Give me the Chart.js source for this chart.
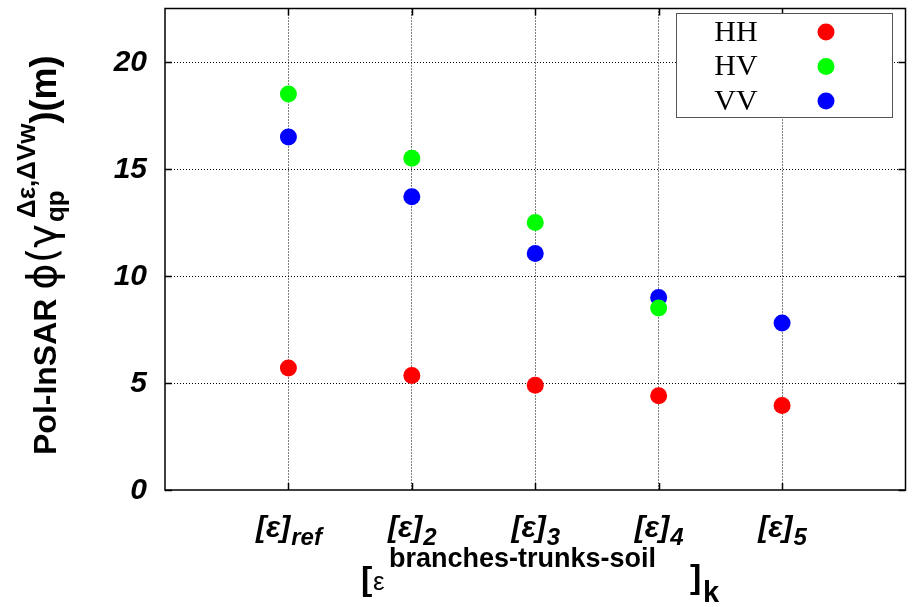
<!DOCTYPE html>
<html>
<head>
<meta charset="utf-8">
<script src="https://cdn.jsdelivr.net/npm/chart.js@4.4.1/dist/chart.umd.min.js"></script>
<style>
html, body { margin: 0; padding: 0; background: #fff; }
#wrap { width: 914px; height: 607px; }
</style>
</head>
<body>
<div id="wrap"><canvas id="chart"></canvas></div>
<script>
// subscripts of the [ε] labels, placed at x = 1..5
const categories = ['ref', '2', '3', '4', '5'];
const xPositions = [1, 2, 3, 4, 5];
const hh = [5.7, 5.35, 4.9, 4.4, 3.95];
const hv = [18.5, 15.5, 12.5, 8.5, null];
const vv = [16.5, 13.7, 11.05, 9.0, 7.8];
const seriesNames = ['HH', 'HV', 'VV'];
const seriesColors = ['#ff0000', '#00ff00', '#0000ff'];
const yTicks = [0, 5, 10, 15, 20];

function toPoints(values) {
    let pts = [];
    for (let i = 0; i < values.length; i++) {
        if (values[i] !== null) pts.push({ x: xPositions[i], y: values[i] });
    }
    return pts;
}

const sans = 'Arial, "Liberation Sans", sans-serif';

// tick labels, axis titles, frame with inward ticks and the legend
const decor = {
    id: 'decor',
    afterDraw(chart) {
        const ctx = chart.ctx;
        const a = chart.chartArea;
        const xs = chart.scales.x, ys = chart.scales.y;
        ctx.save();

        // inward tick marks on all four sides
        ctx.strokeStyle = '#000';
        ctx.lineWidth = 1.5;
        ctx.beginPath();
        xPositions.forEach(p => {
            const px = Math.round(xs.getPixelForValue(p)) + 0.5;
            ctx.moveTo(px, a.bottom); ctx.lineTo(px, a.bottom - 7);
            ctx.moveTo(px, a.top); ctx.lineTo(px, a.top + 7);
        });
        yTicks.forEach(v => {
            const py = Math.round(ys.getPixelForValue(v)) + 0.5;
            ctx.moveTo(a.left, py); ctx.lineTo(a.left + 7, py);
            ctx.moveTo(a.right, py); ctx.lineTo(a.right - 7, py);
        });
        ctx.stroke();

        // legend
        const lx = 676, ly = 13, lw = 216, lh = 104;
        ctx.fillStyle = '#fff';
        ctx.fillRect(lx, ly, lw, lh);
        ctx.strokeStyle = '#555';
        ctx.lineWidth = 1;
        ctx.strokeRect(lx + 0.5, ly + 0.5, lw, lh);
        ctx.font = '30px "Liberation Serif", "Times New Roman", serif';
        ctx.textBaseline = 'middle';
        ctx.textAlign = 'center';
        seriesNames.forEach((name, i) => {
            const cy = 32 + i * 34.5;
            ctx.fillStyle = '#000';
            ctx.fillText(name, 736, cy + 1);
            ctx.fillStyle = seriesColors[i];
            ctx.beginPath();
            ctx.arc(826, cy, 8.5, 0, Math.PI * 2);
            ctx.fill();
        });

        // frame
        ctx.strokeStyle = '#000';
        ctx.lineWidth = 1.5;
        ctx.strokeRect(a.left, a.top, a.right - a.left, a.bottom - a.top);

        // y tick labels
        ctx.fillStyle = '#000';
        ctx.textAlign = 'right';
        ctx.textBaseline = 'middle';
        ctx.font = 'italic bold 30px ' + sans;
        yTicks.forEach(v => {
            ctx.fillText(String(v), 147, ys.getPixelForValue(v) + 1);
        });

        // x tick labels: [ε] with subscript
        ctx.textBaseline = 'alphabetic';
        ctx.textAlign = 'left';
        categories.forEach((sub, i) => {
            const px = xs.getPixelForValue(xPositions[i]);
            ctx.font = 'italic bold 30px ' + sans;
            const w1 = ctx.measureText('[ε]').width;
            ctx.font = 'italic bold 24px ' + sans;
            const w2 = ctx.measureText(sub).width;
            const x0 = px - (w1 + w2) / 2;
            ctx.font = 'italic bold 30px ' + sans;
            ctx.fillText('[ε]', x0, 537);
            ctx.font = 'italic bold 24px ' + sans;
            ctx.fillText(sub, x0 + w1 + 1, 545);
        });

        // x axis title: [ε^{branches-trunks-soil}]_k
        ctx.font = 'bold 34px ' + sans;
        ctx.fillText('[', 361, 590);
        ctx.font = '26px ' + sans;
        ctx.fillText('ε', 373, 590);
        ctx.font = 'bold 27px ' + sans;
        ctx.fillText('branches-trunks-soil', 389, 567);
        ctx.font = 'bold 34px ' + sans;
        ctx.fillText(']', 690, 588);
        ctx.font = 'bold 29px ' + sans;
        ctx.fillText('k', 703, 602);

        // y axis title, rotated
        ctx.translate(56, 455);
        ctx.rotate(-Math.PI / 2);
        ctx.font = 'bold 32px ' + sans;
        const t = 'Pol-InSAR ';
        ctx.fillText(t, 0, 0);
        let x = ctx.measureText(t).width;
        ctx.font = '40px "DejaVu Sans", sans-serif';
        ctx.fillText('ϕ(γ', x, 0);
        x += ctx.measureText('ϕ(γ').width;
        ctx.font = 'bold 26px ' + sans;
        ctx.fillText('qp', x + 2, 8);
        const wqp = ctx.measureText('qp').width + 2;
        ctx.fillText('Δε,ΔVw', x + 6, -21);
        const wsup = ctx.measureText('Δε,ΔVw').width + 6;
        x += Math.max(wqp, wsup);
        ctx.font = 'bold 36px ' + sans;
        ctx.fillText(')(m)', x, 0);
        ctx.restore();
    }
};

const chart = new Chart(document.getElementById('chart'), {
    type: 'scatter',
    data: {
        datasets: seriesNames.map((name, i) => ({
            label: name,
            data: toPoints([hh, hv, vv][i]),
            backgroundColor: seriesColors[i],
            borderWidth: 0,
            pointRadius: 8.5,
            pointHoverRadius: 8.5
        }))
    },
    options: {
        responsive: true,
        maintainAspectRatio: false,
        animation: false,
        layout: { padding: { top: 5, right: 1, left: 0, bottom: 0 } },
        plugins: {
            legend: { display: false },
            tooltip: { enabled: false }
        },
        scales: {
            x: {
                type: 'linear',
                min: 0,
                max: 6,
                ticks: { stepSize: 1, display: false },
                grid: {
                    drawTicks: false,
                    color: c => (c.tick && (c.tick.value === 0 || c.tick.value === 6)) ? 'rgba(0,0,0,0)' : '#000',
                    lineWidth: 1
                },
                border: { display: false, dash: [1, 2] },
                afterFit(scale) { scale.height = 117; }
            },
            y: {
                min: 0,
                max: 22.5,
                ticks: { stepSize: 5, includeBounds: false, display: false },
                grid: {
                    drawTicks: false,
                    color: c => (c.tick && c.tick.value === 0) ? 'rgba(0,0,0,0)' : '#000',
                    lineWidth: 1
                },
                border: { display: false, dash: [1, 2] },
                afterFit(scale) { scale.width = 165; }
            }
        }
    },
    plugins: [decor]
});
</script>
</body>
</html>
